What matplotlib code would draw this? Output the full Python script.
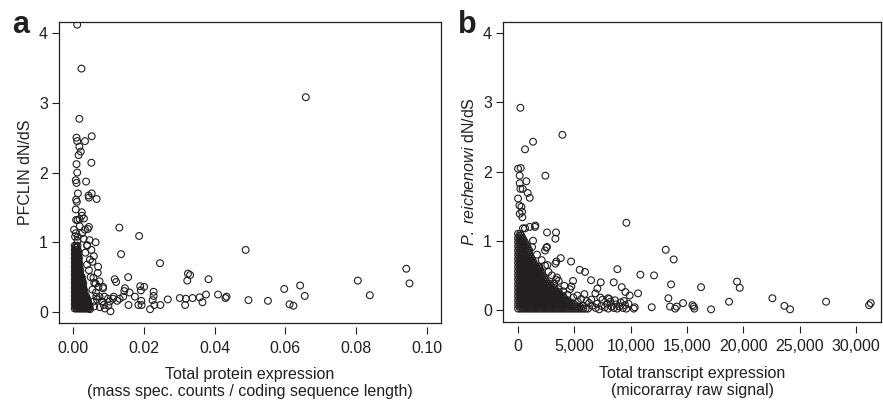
import matplotlib
matplotlib.use("Agg")
import matplotlib.pyplot as plt
from matplotlib.ticker import FuncFormatter

plt.rcParams['font.family'] = ['Liberation Sans', 'DejaVu Sans']
plt.rcParams['mathtext.fontset'] = 'custom'
plt.rcParams['mathtext.rm'] = 'Liberation Sans'
plt.rcParams['mathtext.it'] = 'Liberation Sans:italic'

INK = '#231f20'

# ---- panel a: protein expression vs PFCLIN dN/dS ----
# scattered points (x, dN/dS)
pts_a = [
    (0.0012, 4.12), (0.0024, 3.49), (0.0658, 3.08), (0.0018, 2.77),
    (0.0010, 2.50), (0.0012, 2.45), (0.0034, 2.45), (0.0053, 2.52),
    (0.0018, 2.37), (0.0022, 2.30), (0.0016, 2.25), (0.0052, 2.14),
    (0.0010, 2.12), (0.0012, 2.00), (0.0008, 1.89), (0.0010, 1.85),
    (0.0037, 1.87), (0.0014, 1.70), (0.0044, 1.67), (0.0053, 1.70),
    (0.0045, 1.64), (0.0067, 1.62), (0.0009, 1.61), (0.0011, 1.58),
    (0.0008, 1.47), (0.0025, 1.43), (0.0025, 1.38), (0.0009, 1.32),
    (0.0013, 1.32), (0.0019, 1.33), (0.0031, 1.34), (0.0003, 1.18),
    (0.0045, 1.22), (0.0042, 1.19), (0.0019, 1.23), (0.0008, 1.13),
    (0.0014, 1.08), (0.0026, 1.13), (0.0034, 1.18), (0.0047, 1.03),
    (0.0040, 0.96), (0.0030, 1.05), (0.0013, 1.02), (0.0006, 1.08),
    (0.0131, 1.21), (0.0187, 1.09), (0.0064, 1.00), (0.0136, 0.83),
    (0.0052, 0.89), (0.0246, 0.70), (0.0488, 0.89), (0.0325, 0.55),
    (0.0331, 0.53), (0.0323, 0.45), (0.0383, 0.47), (0.0156, 0.50),
    (0.0118, 0.47), (0.0122, 0.43), (0.0805, 0.45), (0.0942, 0.62),
    (0.0951, 0.41), (0.0597, 0.33), (0.0642, 0.38), (0.0655, 0.23),
    (0.0839, 0.24), (0.0612, 0.11), (0.0623, 0.09), (0.0551, 0.16),
    (0.0496, 0.17), (0.0410, 0.25), (0.0434, 0.22), (0.0431, 0.20),
    (0.0376, 0.25), (0.0358, 0.21), (0.0366, 0.14), (0.0338, 0.20),
    (0.0319, 0.19), (0.0317, 0.10), (0.0302, 0.20), (0.0268, 0.18),
    (0.0247, 0.10), (0.0228, 0.29), (0.0228, 0.23), (0.0225, 0.17),
    (0.0230, 0.10), (0.0218, 0.04), (0.0201, 0.36), (0.0190, 0.37),
    (0.0192, 0.31), (0.0193, 0.16), (0.0185, 0.10), (0.0194, 0.10),
    (0.0175, 0.22), (0.0160, 0.28), (0.0157, 0.10), (0.0147, 0.34),
    (0.0145, 0.30), (0.0142, 0.22), (0.0132, 0.19), (0.0113, 0.19),
    (0.0099, 0.19), (0.0089, 0.22), (0.0075, 0.22), (0.0066, 0.22),
    (0.0082, 0.15), (0.0104, 0.15), (0.0106, 0.01), (0.0076, 0.07),
    (0.0087, 0.10), (0.0060, 0.08), (0.0048, 0.04), (0.0072, 0.36),
    (0.0085, 0.36), (0.0070, 0.56), (0.0058, 0.49), (0.0059, 0.80),
    (0.0055, 0.72), (0.0071, 0.65), (0.0075, 0.44), (0.0085, 0.34),
    (0.0064, 0.41), (0.0055, 0.32), (0.0065, 0.28), (0.0058, 0.15),
    (0.0068, 0.18), (0.0090, 0.05), (0.0100, 0.09), (0.0115, 0.22),
    (0.0125, 0.16), (0.0045, 0.60), (0.0048, 0.75), (0.0040, 0.68),
    (0.0050, 0.50), (0.0060, 0.42), (0.0035, 0.85), (0.0040, 0.95),
]

# the dense cluster close to zero, row by row:
# (dN/dS, [x values in units of 1e-4])
blob_a = [
    (0.05, [5, 9, 13, 17, 21, 25, 29, 33, 37, 41, 45]),
    (0.08, [7, 11, 15, 19, 23, 27, 31, 35, 39, 43, 47]),
    (0.11, [5, 9, 13, 17, 21, 25, 29, 33, 37, 41, 45]),
    (0.14, [7, 11, 15, 19, 23, 27, 31, 35, 39, 43]),
    (0.17, [5, 9, 13, 17, 21, 25, 29, 33, 37, 41]),
    (0.20, [7, 11, 15, 19, 23, 27, 31, 35, 39]),
    (0.23, [5, 9, 13, 17, 21, 25, 29, 33, 37]),
    (0.26, [7, 11, 15, 19, 23, 27, 31]),
    (0.29, [5, 9, 13, 17, 21, 25, 29, 33]),
    (0.32, [7, 11, 15, 19, 23, 27, 31]),
    (0.35, [5, 9, 13, 17, 21, 25, 29]),
    (0.38, [7, 11, 15, 19, 23, 27]),
    (0.41, [5, 9, 13, 17, 21, 25, 29]),
    (0.44, [7, 11, 15, 19, 23, 27]),
    (0.47, [5, 9, 13, 17, 21, 25]),
    (0.50, [7, 11, 15, 19, 23, 25]),
    (0.53, [5, 9, 13, 17, 21]),
    (0.56, [7, 11, 15, 19]),
    (0.59, [5, 9, 13, 17, 21]),
    (0.62, [7, 11, 15, 19]),
    (0.65, [5, 9, 13, 17]),
    (0.68, [7, 11, 15, 19]),
    (0.71, [5, 9, 13, 17]),
    (0.74, [7, 11, 15]),
    (0.77, [5, 9, 13, 17]),
    (0.80, [7, 11, 15]),
    (0.83, [5, 9, 13]),
    (0.86, [7, 11, 15]),
    (0.89, [5, 9, 13]),
    (0.92, [7, 11]),
    (0.95, [5, 9, 13]),
]

# ---- panel b: transcript expression vs P. reichenowi dN/dS ----
pts_b = [
    (207, 2.92), (3935, 2.53), (1331, 2.43), (621, 2.32), (0, 2.04),
    (237, 2.05), (2426, 1.94), (148, 1.94), (148, 1.83), (740, 1.86),
    (207, 1.75), (414, 1.75), (858, 1.69), (1036, 1.62), (0, 1.61),
    (120, 1.51), (300, 1.49), (355, 1.42), (150, 1.39), (380, 1.34),
    (9615, 1.26), (1538, 1.22), (1036, 1.20), (621, 1.18), (440, 1.18),
    (2574, 1.12), (3373, 1.12), (3314, 1.03), (1331, 1.00), (13107, 0.87),
    (13817, 0.73), (2515, 0.90), (2396, 0.86), (3787, 0.75), (4704, 0.70),
    (3402, 0.70), (3314, 0.67), (2600, 0.65), (2400, 0.64), (5473, 0.58),
    (5947, 0.55), (8817, 0.59), (10858, 0.51), (12071, 0.50), (6479, 0.43),
    (7337, 0.40), (8491, 0.40), (4881, 0.42), (9201, 0.33), (9527, 0.26),
    (9911, 0.21), (10651, 0.24), (13580, 0.37), (16243, 0.33), (19438, 0.41),
    (19675, 0.32), (13343, 0.17), (18728, 0.12), (22574, 0.17), (27337, 0.12),
    (23639, 0.06), (24142, 0.01), (31154, 0.07), (31302, 0.10), (17130, 0.01),
    (15473, 0.07), (15591, 0.05), (15650, 0.02), (14645, 0.10), (14083, 0.05),
    (13935, 0.02), (13491, 0.05), (11864, 0.04), (10266, 0.02), (10355, 0.04),
    (5888, 0.23), (7041, 0.31), (6864, 0.24), (7988, 0.17), (5266, 0.21),
    (4112, 0.35), (4734, 0.34), (3609, 0.42), (3450, 0.47), (3370, 0.44),
    (1500, 1.20), (1240, 0.91), (2570, 0.91), (1680, 0.80), (2100, 0.72),
    (1900, 0.62), (2700, 0.55), (3000, 0.50), (3200, 0.38), (3600, 0.30),
    (4000, 0.27), (4400, 0.22), (4900, 0.18), (5300, 0.12), (5600, 0.16),
    (6100, 0.13), (6300, 0.10), (6600, 0.06), (6900, 0.03), (7000, 0.09),
    (7200, 0.01), (7400, 0.06), (7500, 0.15), (7700, 0.04), (7900, 0.09),
    (8000, 0.02), (8200, 0.12), (8300, 0.05), (8500, 0.03), (8700, 0.08),
    (8800, 0.02), (9000, 0.05), (9100, 0.11), (9300, 0.03), (9500, 0.07),
    (9600, 0.02), (9800, 0.09), (6200, 0.02), (6500, 0.15), (5800, 0.06),
    (7300, 0.18), (8100, 0.16), (8600, 0.14), (9400, 0.13), (4600, 0.30),
]

# the dense cluster near zero expression, row by row:
# (dN/dS, [x values in hundreds of signal units])
blob_b = [
    (0.02, [0, 2, 4, 6, 8, 10, 12, 14, 16, 18, 20, 22, 24, 26, 28, 30,
            32, 34, 36, 38, 40, 42, 44, 46, 48, 50, 52, 54, 56, 58, 60]),
    (0.05, [1, 3, 5, 7, 9, 11, 13, 15, 17, 19, 21, 23, 25, 27, 29, 31,
            33, 35, 37, 39, 41, 43, 45, 47, 49, 51, 53, 55]),
    (0.08, [0, 2, 4, 6, 8, 10, 12, 14, 16, 18, 20, 22, 24, 26, 28, 30,
            32, 34, 36, 38, 40, 42, 44, 46, 48, 50]),
    (0.11, [1, 3, 5, 7, 9, 11, 13, 15, 17, 19, 21, 23, 25, 27, 29, 31,
            33, 35, 37, 39, 41, 43, 45, 47]),
    (0.14, [0, 2, 4, 6, 8, 10, 12, 14, 16, 18, 20, 22, 24, 26, 28, 30,
            32, 34, 36, 38, 40, 42, 44]),
    (0.17, [1, 3, 5, 7, 9, 11, 13, 15, 17, 19, 21, 23, 25, 27, 29, 31,
            33, 35, 37, 39, 41]),
    (0.20, [0, 2, 4, 6, 8, 10, 12, 14, 16, 18, 20, 22, 24, 26, 28, 30,
            32, 34, 36, 38, 40]),
    (0.23, [1, 3, 5, 7, 9, 11, 13, 15, 17, 19, 21, 23, 25, 27, 29, 31,
            33, 35, 37]),
    (0.26, [0, 2, 4, 6, 8, 10, 12, 14, 16, 18, 20, 22, 24, 26, 28, 30,
            32, 34, 36]),
    (0.29, [1, 3, 5, 7, 9, 11, 13, 15, 17, 19, 21, 23, 25, 27, 29, 31, 33]),
    (0.32, [0, 2, 4, 6, 8, 10, 12, 14, 16, 18, 20, 22, 24, 26, 28, 30, 32]),
    (0.35, [1, 3, 5, 7, 9, 11, 13, 15, 17, 19, 21, 23, 25, 27, 29]),
    (0.38, [0, 2, 4, 6, 8, 10, 12, 14, 16, 18, 20, 22, 24, 26, 28]),
    (0.41, [1, 3, 5, 7, 9, 11, 13, 15, 17, 19, 21, 23, 25]),
    (0.44, [0, 2, 4, 6, 8, 10, 12, 14, 16, 18, 20, 22, 24]),
    (0.47, [1, 3, 5, 7, 9, 11, 13, 15, 17, 19, 21, 23]),
    (0.50, [0, 2, 4, 6, 8, 10, 12, 14, 16, 18, 20, 22]),
    (0.53, [1, 3, 5, 7, 9, 11, 13, 15, 17, 19, 21]),
    (0.56, [0, 2, 4, 6, 8, 10, 12, 14, 16, 18, 20]),
    (0.59, [1, 3, 5, 7, 9, 11, 13, 15, 17, 19]),
    (0.62, [0, 2, 4, 6, 8, 10, 12, 14, 16, 18]),
    (0.65, [1, 3, 5, 7, 9, 11, 13, 15]),
    (0.68, [0, 2, 4, 6, 8, 10, 12, 14]),
    (0.71, [1, 3, 5, 7, 9, 11, 13]),
    (0.74, [0, 2, 4, 6, 8, 10, 12]),
    (0.77, [1, 3, 5, 7, 9, 11]),
    (0.80, [0, 2, 4, 6, 8, 10]),
    (0.83, [1, 3, 5, 7, 9]),
    (0.86, [0, 2, 4, 6, 8, 10]),
    (0.89, [1, 3, 5, 7, 9]),
    (0.92, [0, 2, 4, 6, 8]),
    (0.95, [1, 3, 5, 7]),
    (0.98, [0, 2, 4, 6]),
    (1.01, [1, 3, 5]),
    (1.04, [0, 2, 4]),
    (1.07, [1, 3]),
    (1.10, [0, 2]),
]

xticks_a = [0.00, 0.02, 0.04, 0.06, 0.08, 0.10]
xticks_b = [0, 5000, 10000, 15000, 20000, 25000, 30000]
yticks = [0, 1, 2, 3, 4]


def unpack(points, rows, unit):
    xs = [p[0] for p in points]
    ys = [p[1] for p in points]
    for y, row in rows:
        xs.extend(v * unit for v in row)
        ys.extend([y] * len(row))
    return xs, ys


def style_panel(ax, xticks, xfmt, xlabel, ylabel):
    ax.set_yticks(yticks)
    ax.tick_params(axis='y', direction='out', length=5, width=0.8,
                   pad=3, labelsize=11.5, colors=INK)
    ax.set_xticks([])
    for sp in ax.spines.values():
        sp.set_linewidth(0.9)
        sp.set_color(INK)
    # R style x axis: ticks detached from the box
    sec = ax.secondary_xaxis(-0.012)
    sec.spines['bottom'].set_visible(False)
    sec.set_xticks(xticks)
    sec.xaxis.set_major_formatter(xfmt)
    sec.tick_params(axis='x', direction='out', length=5, width=0.8,
                    pad=5, labelsize=11.5, colors=INK)
    sec.set_xlabel(xlabel, fontsize=11.5, linespacing=1.15, labelpad=8.5, color=INK)
    ax.set_ylabel(ylabel, fontsize=11.5, labelpad=4.5, color=INK)


fig = plt.figure(figsize=(8.83, 4.03), dpi=100)
ax_a = fig.add_axes([0.0668, 0.1985, 0.4326, 0.7469])
ax_b = fig.add_axes([0.5697, 0.2010, 0.4280, 0.7444])

xa, ya = unpack(pts_a, blob_a, 1e-4)
ax_a.scatter(xa, ya, s=24, facecolors='none', edgecolors=INK, linewidths=0.8)
ax_a.set_xlim(-0.00395, 0.104)
ax_a.set_ylim(-0.158, 4.158)
style_panel(ax_a, xticks_a, FuncFormatter(lambda v, p: f'{v:.2f}'),
            'Total protein expression\n(mass spec. counts / coding sequence length)',
            'PFCLIN dN/dS')

xb, yb = unpack(pts_b, blob_b, 100)
ax_b.scatter(xb, yb, s=24, facecolors='none', edgecolors=INK, linewidths=0.8)
ax_b.set_xlim(-1331, 32210)
ax_b.set_ylim(-0.173, 4.159)
style_panel(ax_b, xticks_b, FuncFormatter(lambda v, p: f'{v:,.0f}'),
            'Total transcript expression\n(micorarray raw signal)',
            r'$\it{P.\ reichenowi}$ dN/dS')

fig.text(0.0136, 0.918, 'a', fontsize=22, fontweight='bold', color=INK, va='baseline')
fig.text(0.5187, 0.918, 'b', fontsize=22, fontweight='bold', color=INK, va='baseline')

fig.savefig('out.png', dpi=100)
